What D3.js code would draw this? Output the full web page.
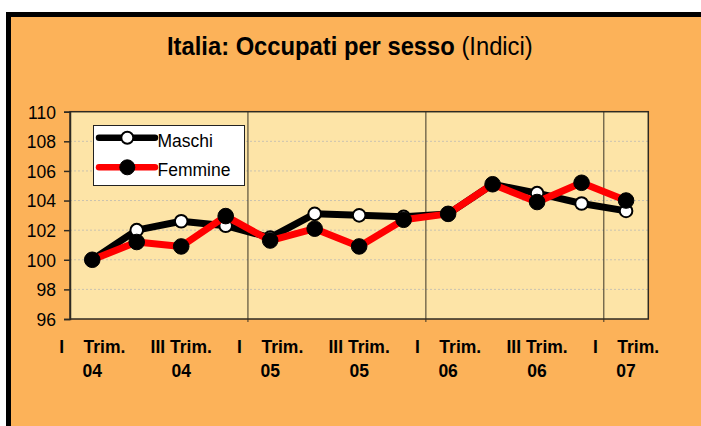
<!DOCTYPE html>
<html><head><meta charset="utf-8">
<script src="https://cdn.jsdelivr.net/npm/d3@7"></script>
<style>
html,body{margin:0;padding:0;background:#fff;}
svg{display:block;}
text{font-family:"Liberation Sans",Arial,sans-serif;}
</style></head>
<body>
<svg id="c" width="701" height="426"></svg>
<script>
// ---- data ----
const categories = ["I Trim. 04","II Trim. 04","III Trim. 04","IV Trim. 04",
  "I Trim. 05","II Trim. 05","III Trim. 05","IV Trim. 05",
  "I Trim. 06","II Trim. 06","III Trim. 06","IV Trim. 06","I Trim. 07"];
const maschi  = [100.0,102.0,102.6,102.3,101.5,103.1,103.0,102.9,103.1,105.1,104.5,103.8,103.3];
const femmine = [100.0,101.2,100.9,102.95,101.3,102.1,100.9,102.7,103.1,105.1,103.9,105.2,104.0];
const yTicks = [96,98,100,102,104,106,108,110];
const xLabelLine1 = ["I\u00a0\u00a0\u00a0 Trim.","III Trim.","I\u00a0\u00a0\u00a0 Trim.","III Trim.","I\u00a0\u00a0\u00a0 Trim.","III Trim.","I\u00a0\u00a0\u00a0 Trim."];
const xLabelLine2 = ["04","04","05","05","06","06","07"];
const seriesNames = ["Maschi","Femmine"];

const svg = d3.select("#c");
const ORANGE = "#FCB259", PLOTBG = "#FDE4A7";

// outer frame
svg.append("rect").attr("x", 8.5).attr("y", 14.5).attr("width", 720).attr("height", 440)
  .attr("fill", ORANGE).attr("stroke", "#000").attr("stroke-width", 5);

// title
const title = svg.append("text").attr("font-size", 25).attr("text-anchor", "start");
title.append("tspan").attr("font-weight", "bold").text("Italia: Occupati per sesso");
title.append("tspan").attr("font-weight", "normal").text(" (Indici)");
const tw = title.node().getComputedTextLength();
const targetW = 366;
title.attr("transform", `translate(${350 - targetW/2},55) scale(${targetW/tw},1)`);

// plot area
const L = 70, R = 648.3, T = 111.7, B = 319;
const x = d3.scalePoint().domain(categories).range([L, R]).padding(0.5);
const y = d3.scaleLinear().domain([96, 110]).range([B, T]);
const step = x.step();

svg.append("rect").attr("x", L).attr("y", T).attr("width", R - L).attr("height", B - T)
  .attr("fill", PLOTBG);

// gridlines
svg.append("g").selectAll("line").data(yTicks.filter(d => d > 96 && d < 110)).join("line")
  .attr("x1", L).attr("x2", R).attr("y1", d => y(d)).attr("y2", d => y(d))
  .attr("stroke", "#c9c2b0").attr("stroke-width", 1).attr("stroke-dasharray", "2,2");

// year separators
const sepIdx = [4, 8, 12];
svg.append("g").selectAll("line").data(sepIdx).join("line")
  .attr("x1", d => x(categories[d]) - step/2).attr("x2", d => x(categories[d]) - step/2)
  .attr("y1", T).attr("y2", B + 3)
  .attr("stroke", "#3a3426").attr("stroke-width", 1);

// frame
svg.append("rect").attr("x", L).attr("y", T).attr("width", R - L).attr("height", B - T)
  .attr("fill", "none").attr("stroke", "#2e2a22").attr("stroke-width", 1.5);

// y axis
const yAxis = d3.axisLeft(y).tickValues(yTicks).tickSize(6).tickPadding(8);
const gy = svg.append("g").attr("transform", `translate(${L},0)`).call(yAxis);
gy.select(".domain").attr("stroke", "#2e2a22").attr("stroke-width", 1.5);
gy.selectAll(".tick line").attr("stroke", "#2e2a22").attr("stroke-width", 1.5);
gy.selectAll(".tick text").attr("font-size", 17.5).attr("fill", "#000")
  .attr("font-family", "'Liberation Sans',Arial,sans-serif").attr("dy", "0.36em");

// x labels (every other category)
const labelCats = categories.filter((d, i) => i % 2 === 0);
const gx = svg.append("g");
labelCats.forEach((c, i) => {
  gx.append("text").attr("x", x(c)).attr("y", 352.7).attr("text-anchor", "middle")
    .attr("font-size", 17.5).attr("font-weight", "bold").text(xLabelLine1[i]);
  gx.append("text").attr("x", x(c)).attr("y", 377.3).attr("text-anchor", "middle")
    .attr("font-size", 17.5).attr("font-weight", "bold").text(xLabelLine2[i]);
});

// lines
const line = d3.line().x((d, i) => x(categories[i])).y(d => y(d));
function drawSeries(vals, color, markerFill, r, sw) {
  svg.append("path").datum(vals).attr("d", line).attr("fill", "none")
    .attr("stroke", color).attr("stroke-width", 7).attr("stroke-linejoin", "round");
  svg.append("g").selectAll("circle").data(vals).join("circle")
    .attr("cx", (d, i) => x(categories[i])).attr("cy", d => y(d)).attr("r", r)
    .attr("fill", markerFill).attr("stroke", "#000").attr("stroke-width", sw);
}
drawSeries(maschi, "#000", "#fff", 6.3, 2);
drawSeries(femmine, "#ff0000", "#000", 7.8, 1);

// legend
const lg = svg.append("g");
lg.append("rect").attr("x", 93.5).attr("y", 125.5).attr("width", 151).attr("height", 60)
  .attr("fill", "#fff").attr("stroke", "#222").attr("stroke-width", 1);
const legendItems = [
  {name: seriesNames[0], color: "#000", fill: "#fff", r: 6, sw: 2, yy: 137.7},
  {name: seriesNames[1], color: "#ff0000", fill: "#000", r: 7.5, sw: 1, yy: 167.3}
];
legendItems.forEach(it => {
  lg.append("line").attr("x1", 99).attr("x2", 155).attr("y1", it.yy).attr("y2", it.yy)
    .attr("stroke", it.color).attr("stroke-width", 6.5).attr("stroke-linecap", "round");
  lg.append("circle").attr("cx", 127.3).attr("cy", it.yy).attr("r", it.r)
    .attr("fill", it.fill).attr("stroke", "#000").attr("stroke-width", it.sw);
  lg.append("text").attr("x", 157.5).attr("y", it.yy + 9).attr("font-size", 17.5)
    .attr("fill", "#000").text(it.name);
});
</script>
</body></html>
